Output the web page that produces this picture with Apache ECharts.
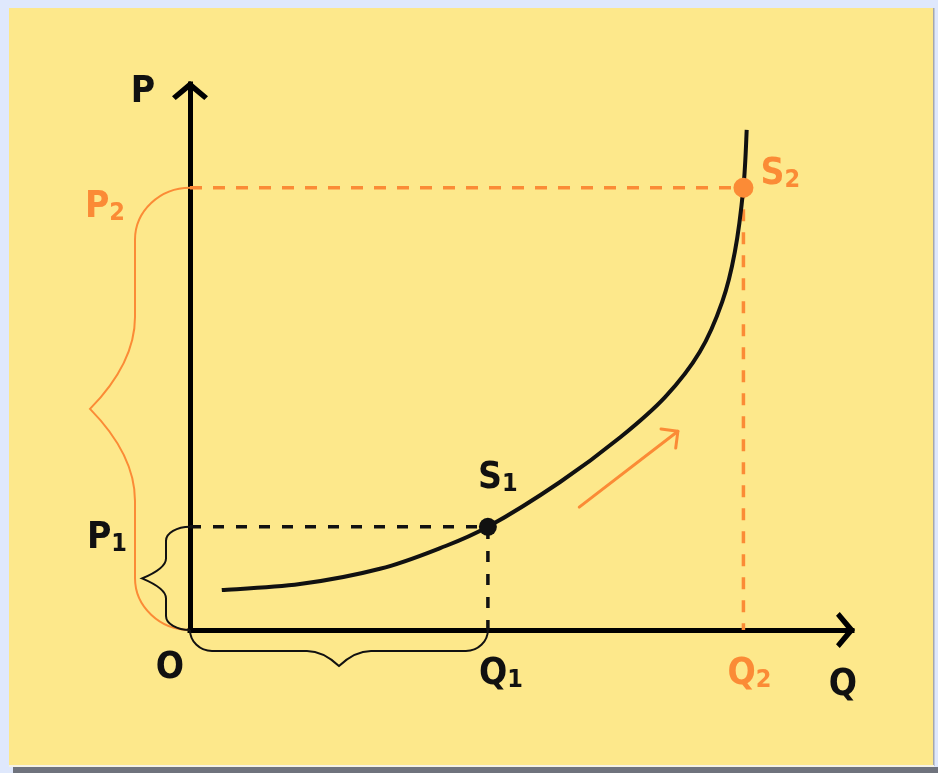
<!DOCTYPE html>
<html>
<head>
<meta charset="utf-8">
<title>supply curve</title>
<script src="https://cdn.jsdelivr.net/npm/echarts/dist/echarts.min.js"></script>
<style>
  html, body { margin: 0; padding: 0; background: #dfe8fc; }
  #main { width: 938px; height: 773px; }
</style>
</head>
<body>
<div id="main"></div>
<script>
// supply curve (Q, P)
var supplyQ = [0.48, 1.66, 2.87, 3.78, 4.5, 5.59, 6.50, 7.18, 7.70, 8.04, 8.23, 8.36, 8.41];
var supplyP = [0.73, 0.84, 1.12, 1.50, 1.89, 2.71, 3.53, 4.27, 5.09, 6.01, 6.92, 8.10, 9.16];

// marked points S1, S2
var pointQ = [4.5, 8.36];
var pointP = [1.89, 8.1];

// orange arrow next to the curve
var trendQ = [5.88, 7.37];
var trendP = [2.25, 3.64];

var axisMax = [10, 10];

var BLACK = '#111111';
var ORANGE = '#fb8b36';
var FONT = "'Liberation Sans Narrow', 'DejaVu Sans Condensed', Roboto, sans-serif";

var Q1 = pointQ[0], Q2 = pointQ[1], P1 = pointP[0], P2 = pointP[1];

var curve = [];
for (var i = 0; i < supplyQ.length; i++) {
  curve.push([supplyQ[i], supplyP[i]]);
}

// open arrow head, pointing up in its own box
function chevron(w, h, t) {
  var k = t * 0.75, k2 = t * 1.45;
  return 'path://M' + w / 2 + ',0 L' + w + ',' + (h - k) + ' L' + (w - k) + ',' + h +
    ' L' + w / 2 + ',' + k2 + ' L' + k + ',' + h + ' L0,' + (h - k) + ' Z';
}

// curly brace from (x1,y1) to (x2,y2), bulging to the left of the travel direction
function braceSeries(span, color, sh) {
  return {
    type: 'custom',
    coordinateSystem: 'cartesian2d',
    clip: false,
    silent: true,
    z: 3,
    data: [span],
    renderItem: function (params, api) {
      var a = api.coord([api.value(0), api.value(1)]);
      var b = api.coord([api.value(2), api.value(3)]);
      var L = Math.sqrt((b[0] - a[0]) * (b[0] - a[0]) + (b[1] - a[1]) * (b[1] - a[1]));
      var ex = (b[0] - a[0]) / L, ey = (b[1] - a[1]) / L;
      var nx = ey, ny = -ex;
      function p(u, v) {
        return (a[0] + ex * u + nx * v).toFixed(1) + ',' + (a[1] + ey * u + ny * v).toFixed(1);
      }
      var s = sh.s, t = sh.t, r = sh.r, w = sh.w, h = L / 2;
      var m = s + (t - s) / 3;
      var d = 'M' + p(0, 0) +
        ' C' + p(0, s * 0.55) + ' ' + p(r * 0.45, s) + ' ' + p(r, s) +
        ' L' + p(h - w, s) +
        ' C' + p(h - w * 0.667, s) + ' ' + p(h - w * 0.333, m) + ' ' + p(h, t) +
        ' C' + p(h + w * 0.333, m) + ' ' + p(h + w * 0.667, s) + ' ' + p(h + w, s) +
        ' L' + p(L - r, s) +
        ' C' + p(L - r * 0.45, s) + ' ' + p(L, s * 0.55) + ' ' + p(L, 0);
      return {
        type: 'path',
        shape: { pathData: d },
        style: { fill: 'none', stroke: color, lineWidth: 2 }
      };
    }
  };
}

// smooth curve through the supply points (catmull-rom in screen space)
function renderCurve(params, api) {
  if (params.dataIndex !== 0) return null;
  var pts = [];
  for (var j = 0; j < curve.length; j++) pts.push(api.coord(curve[j]));
  var d = 'M' + pts[0][0].toFixed(1) + ',' + pts[0][1].toFixed(1);
  for (var k = 0; k < pts.length - 1; k++) {
    var p0 = pts[k - 1] || pts[k], p1 = pts[k], p2 = pts[k + 1], p3 = pts[k + 2] || pts[k + 1];
    var c1x = p1[0] + (p2[0] - p0[0]) / 6, c1y = p1[1] + (p2[1] - p0[1]) / 6;
    var c2x = p2[0] - (p3[0] - p1[0]) / 6, c2y = p2[1] - (p3[1] - p1[1]) / 6;
    d += ' C' + c1x.toFixed(1) + ',' + c1y.toFixed(1) + ' ' + c2x.toFixed(1) + ',' + c2y.toFixed(1) +
      ' ' + p2[0].toFixed(1) + ',' + p2[1].toFixed(1);
  }
  return {
    type: 'path',
    shape: { pathData: d },
    style: { fill: 'none', stroke: BLACK, lineWidth: 4, lineCap: 'butt' }
  };
}

// orange arrow: shaft plus two arms at the tip
function renderTrend(params, api) {
  var a = api.coord([api.value(0), api.value(1)]);
  var b = api.coord([api.value(2), api.value(3)]);
  var ang = Math.atan2(b[1] - a[1], b[0] - a[0]);
  var arm = 17;
  var l1 = [b[0] - arm * Math.cos(ang - Math.PI / 4), b[1] - arm * Math.sin(ang - Math.PI / 4)];
  var l2 = [b[0] - arm * Math.cos(ang + Math.PI / 4), b[1] - arm * Math.sin(ang + Math.PI / 4)];
  var st = { stroke: ORANGE, lineWidth: 3, lineCap: 'round', lineJoin: 'round', fill: 'none' };
  return {
    type: 'group',
    children: [
      { type: 'line', shape: { x1: a[0], y1: a[1], x2: b[0], y2: b[1] }, style: st },
      { type: 'polyline', shape: { points: [l1, b, l2] }, style: st }
    ]
  };
}

var rich = {
  m: { fontSize: 37, fontWeight: 'bold', fontFamily: FONT, color: BLACK, lineHeight: 44, verticalAlign: 'bottom' },
  s: { fontSize: 25, fontWeight: 'bold', fontFamily: FONT, color: BLACK, lineHeight: 37, verticalAlign: 'bottom' },
  mo: { fontSize: 37, fontWeight: 'bold', fontFamily: FONT, color: ORANGE, lineHeight: 44, verticalAlign: 'bottom' },
  so: { fontSize: 25, fontWeight: 'bold', fontFamily: FONT, color: ORANGE, lineHeight: 37, verticalAlign: 'bottom' }
};

function tag(x, y, text, dx, dy) {
  return { value: [x, y], label: { formatter: text, offset: [dx, dy] } };
}

var tags = [
  tag(0, axisMax[1], '{m|P}', -47, 5),
  tag(axisMax[0], 0, '{m|Q}', -9, 52),
  tag(0, P2, '{mo|P}{so|2}', -85, 16),
  tag(0, P1, '{m|P}{s|1}', -83, 8),
  tag(0, 0, '{m|O}', -20, 35),
  tag(Q1, 0, '{m|Q}{s|1}', 13, 41),
  tag(Q2, 0, '{mo|Q}{so|2}', 6, 41),
  tag(Q1, P1, '{m|S}{s|1}', 10, -52),
  tag(Q2, P2, '{mo|S}{so|2}', 37, -17)
];

var axisArrow = chevron(36, 19, 5);

function axisOpt(max) {
  return {
    type: 'value',
    min: 0,
    max: max,
    axisLine: {
      onZero: false,
      symbol: ['none', axisArrow],
      symbolSize: [36, 19],
      symbolOffset: [0, -6.5],
      lineStyle: { color: '#000', width: 5, cap: 'square' }
    },
    axisTick: { show: false },
    axisLabel: { show: false },
    splitLine: { show: false }
  };
}

var myChart = echarts.init(document.getElementById('main'));

var option = {
  backgroundColor: '#dfe8fc',
  animation: false,
  graphic: [
    { type: 'rect', z: -10, shape: { x: 9, y: 8, width: 924, height: 757 }, style: { fill: '#fde88b' } },
    { type: 'rect', z: -10, shape: { x: 933, y: 8, width: 1.5, height: 758 }, style: { fill: '#a3a7b0' } },
    { type: 'rect', z: -10, shape: { x: 9, y: 765, width: 925, height: 2 }, style: { fill: '#f4f2e6' } },
    { type: 'rect', z: -10, shape: { x: 13, y: 767, width: 925, height: 6 }, style: { fill: '#6f737d' } }
  ],
  grid: {
    left: 190,
    right: 86,
    top: 84,
    bottom: 143,
    outerBoundsMode: 'none'
  },
  xAxis: axisOpt(axisMax[0]),
  yAxis: axisOpt(axisMax[1]),
  series: [
    braceSeries([0, 0, 0, P2], ORANGE, { s: 55, t: 100, r: 52, w: 92 }),
    braceSeries([0, 0, 0, P1], BLACK, { s: 24, t: 48, r: 14, w: 20 }),
    braceSeries([Q1, 0, 0, 0], BLACK, { s: 21, t: 36, r: 22, w: 32 }),
    {
      name: 'P1-Q1',
      type: 'line',
      symbol: 'none',
      clip: false,
      z: 3,
      data: [[0, P1], [Q1, P1], [Q1, 0]],
      lineStyle: { color: BLACK, width: 3.5, type: [11, 12], opacity: 1 }
    },
    {
      name: 'P2-Q2',
      type: 'line',
      symbol: 'none',
      clip: false,
      z: 3,
      data: [[0, P2], [Q2, P2], [Q2, 0]],
      lineStyle: { color: ORANGE, width: 3.5, type: [12, 11], opacity: 1 }
    },
    {
      name: 'S',
      type: 'custom',
      coordinateSystem: 'cartesian2d',
      z: 4,
      silent: true,
      data: curve,
      renderItem: renderCurve
    },
    {
      name: 'points',
      type: 'scatter',
      z: 5,
      clip: false,
      itemStyle: { opacity: 1 },
      data: [
        { value: [Q1, P1], symbolSize: 18, itemStyle: { color: BLACK, opacity: 1 } },
        { value: [Q2, P2], symbolSize: 20, itemStyle: { color: ORANGE, opacity: 1 } }
      ]
    },
    {
      name: 'trend',
      type: 'custom',
      coordinateSystem: 'cartesian2d',
      z: 4,
      silent: true,
      clip: false,
      data: [[trendQ[0], trendP[0], trendQ[1], trendP[1]]],
      renderItem: renderTrend
    },
    {
      name: 'tags',
      type: 'scatter',
      symbolSize: 0,
      clip: false,
      silent: true,
      z: 6,
      itemStyle: { opacity: 1 },
      label: {
        show: true,
        position: 'inside',
        align: 'center',
        verticalAlign: 'middle',
        opacity: 1,
        rich: rich
      },
      data: tags
    }
  ]
};

myChart.setOption(option);
window.onresize = myChart.resize;
</script>
</body>
</html>
